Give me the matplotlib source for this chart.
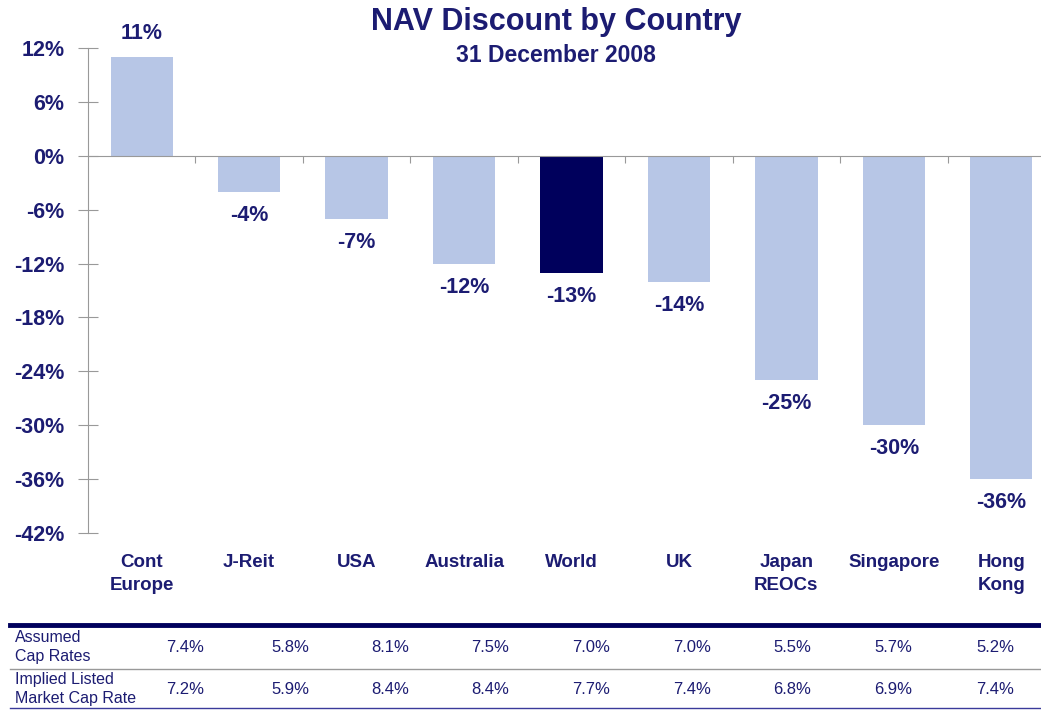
import matplotlib
matplotlib.use("Agg")
from matplotlib import pyplot as plt
from matplotlib.lines import Line2D

plt.rcParams['font.family'] = ['Liberation Sans', 'DejaVu Sans']

# chart data
countries = ["Cont\nEurope", "J-Reit", "USA", "Australia", "World", "UK",
             "Japan\nREOCs", "Singapore", "Hong\nKong"]
nav_discount = [11, -4, -7, -12, -13, -14, -25, -30, -36]
y_ticks = [12, 6, 0, -6, -12, -18, -24, -30, -36, -42]

# table under the chart
row_labels = ["Assumed\nCap Rates", "Implied Listed\nMarket Cap Rate"]
assumed_cap = ["7.4%", "5.8%", "8.1%", "7.5%", "7.0%", "7.0%", "5.5%", "5.7%", "5.2%"]
implied_cap = ["7.2%", "5.9%", "8.4%", "8.4%", "7.7%", "7.4%", "6.8%", "6.9%", "7.4%"]

navy = "#1c1c72"
dark_bar = "#00005c"
light_bar = "#b7c6e6"

W, H = 1041, 712
fig = plt.figure(figsize=(W / 100, H / 100), dpi=100)
ax = fig.add_axes([88 / W, (H - 533) / H, 967 / W, 485 / H])

x = range(len(countries))
colors = [dark_bar if c == "World" else light_bar for c in countries]
ax.bar(x, nav_discount, width=0.58, color=colors, zorder=2)

ax.set_xlim(-0.5, len(countries) - 0.5)
ax.set_ylim(-42, 12)
ax.set_yticks(y_ticks)
ax.set_yticklabels([f"{v}%" for v in y_ticks], fontsize=15.5, fontweight="bold", color=navy)
ax.tick_params(axis="y", direction="inout", length=14, color="#999999", pad=10)

# x axis on the zero line with ticks between categories
ax.spines["bottom"].set_position(("data", 0))
ax.spines["bottom"].set_color("#999999")
ax.spines["left"].set_color("#999999")
ax.spines["top"].set_visible(False)
ax.spines["right"].set_visible(False)
ax.set_xticks([i + 0.5 for i in range(len(countries) - 1)])
ax.set_xticklabels([])
ax.tick_params(axis="x", direction="out", length=5, color="#999999")

# value labels
for i, v in enumerate(nav_discount):
    off = 17 if v > 0 else -17
    ax.annotate(f"{v}%", (i, v), xytext=(0, off), textcoords="offset points",
                ha="center", va="center", fontsize=15.5, fontweight="bold", color=navy)

# category labels below the plot area
for i, name in enumerate(countries):
    ax.annotate(name, (i, 0), xycoords=("data", "axes fraction"), xytext=(0, -15),
                textcoords="offset points", ha="center", va="top", fontsize=13.5,
                fontweight="bold", color=navy, linespacing=1.5)

fig.text(556 / W, 1 - 22 / H, "NAV Discount by Country", ha="center", va="center",
         fontsize=22, fontweight="bold", color=navy)
fig.text(556 / W, 1 - 56 / H, "31 December 2008", ha="center", va="center",
         fontsize=16.5, fontweight="bold", color=navy)

# table lines
fig.add_artist(Line2D([10 / W, 1], [1 - 625 / H] * 2, color=dark_bar, lw=3.5))
fig.add_artist(Line2D([10 / W, 1], [1 - 669 / H] * 2, color="#999999", lw=1))
fig.add_artist(Line2D([10 / W, 1], [1 - 708 / H] * 2, color="#3a3a9a", lw=1))

value_x = [185, 290, 390, 490, 591, 692, 792, 893, 995]
rows = [assumed_cap, implied_cap]
row_y = [647, 689]
for label, vals, yy in zip(row_labels, rows, row_y):
    fig.text(15 / W, 1 - yy / H, label, ha="left", va="center", fontsize=11.5,
             color=navy, linespacing=1.4)
    for xx, val in zip(value_x, vals):
        fig.text(xx / W, 1 - yy / H, val, ha="center", va="center", fontsize=12,
                 color=navy)

fig.savefig("out.png", dpi=100)
